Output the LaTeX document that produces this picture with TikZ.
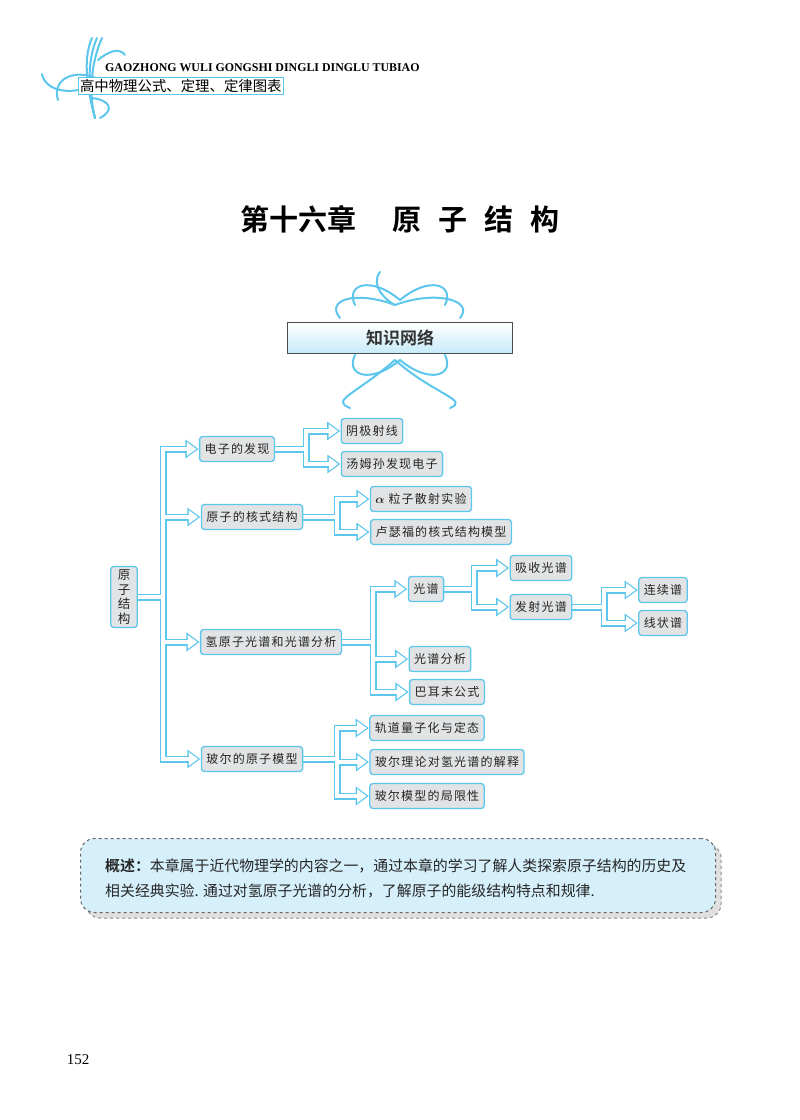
\documentclass[tikz,border=0pt]{standalone}
\usepackage{bm}
\usepackage{fontspec}
\setmainfont{Liberation Serif}
\newfontfamily\cjk[LetterSpace=10]{Noto Sans CJK SC}
\newfontfamily\cjkp{Noto Sans CJK SC}
\newfontfamily\cjkb{Noto Sans CJK SC Bold}
\usetikzlibrary{calc,backgrounds}
\definecolor{cy}{HTML}{5CC6EC}
\definecolor{bx}{HTML}{E1E3E5}
\definecolor{sumfill}{HTML}{D6F0FB}
\tikzset{
 box/.style={draw=cy,line width=1.3pt,fill=bx,rounded corners=3pt,inner xsep=5pt,minimum height=25pt,font=\cjk\fontsize{12}{12}\selectfont,text=black!85},
 pipeO/.style={draw=cy,line width=7pt},
 pipeI/.style={draw=white,line width=4.4pt},
 flo/.style={draw=cy,line width=2pt,line cap=round},
}
\newcommand\linkO[3]{\draw[pipeO] (#1.east) -- (#2 |- #1.east) -- (#2 |- #3.west) -- ([xshift=-11pt]#3.west);
 \fill[cy] ([xshift=-0.5pt]#3.west) -- ++(-13,-9.5) -- ++(0,19) -- cycle;}
\newcommand\linkI[3]{\draw[pipeI] ([xshift=-1pt]#1.east) -- (#2 |- #1.east) -- (#2 |- #3.west) -- ([xshift=-11pt]#3.west);
 \fill[white] ([xshift=-2.6pt]#3.west) -- ++(-9.4,-6.9) -- ++(0,13.8) -- cycle;}
\begin{document}
\begin{tikzpicture}[x=1pt,y=-1pt]
\useasboundingbox (0,0) rectangle (800,1120);
% header flourish
\foreach \a in {0,5,10}{
 \draw[flo] (92+\a,38) .. controls (82+\a,60) and (88,92) .. (95,118);
}
\draw[flo] (96,78) .. controls (70,68) and (52,82) .. (58,100);
\draw[flo] (92,86) .. controls (68,96) and (45,90) .. (42,74);
\draw[flo] (92,98) .. controls (110,100) and (115,110) .. (100,118);
\draw[flo] (98,60) .. controls (110,50) and (120,48) .. (125,55);
\node[font=\bfseries\fontsize{11.9}{12}\selectfont,anchor=west,inner sep=0pt] (hd) at (105,68) {GAOZHONG WULI GONGSHI DINGLI DINGLU TUBIAO};
\node[draw=cy,line width=1pt,fill=white,anchor=west,inner xsep=1.5pt,inner ysep=1.5pt,font=\cjkp\fontsize{14.4}{14.4}\selectfont] (hz) at (78,86) {高中物理公式、定理、定律图表};
% title
\node[font=\cjkb\fontsize{29}{29}\selectfont] (title) at (400,219) {第十六章\hspace{37pt}原\hspace{17pt}子\hspace{17pt}结\hspace{17pt}构};
% banner flourish
\foreach \s in {-1,1}{
 \draw[flo] (400,300) .. controls (400+\s*30,275) and (400+\s*55,285) .. (400+\s*45,305);
 \draw[flo] (395,305) .. controls (395+\s*40,290) and (400+\s*75,300) .. (400+\s*60,318);
 \draw[flo] (400,360) .. controls (400+\s*30,385) and (400+\s*55,375) .. (400+\s*45,355);
 \draw[flo] (395,360) .. controls (395+\s*40,395) and (400+\s*70,400) .. (400+\s*50,408);
}
\draw[flo] (380,272) .. controls (370,285) and (385,300) .. (395,305);
\node[draw=black!70,line width=1pt,minimum width=225pt,minimum height=31pt,top color=white,bottom color=cy!35,font=\cjkb\fontsize{17}{17}\selectfont,text=black!80] (ban) at (400,338) {知识网络};
% nodes
\node[box,inner xsep=7pt,align=center,font=\cjkp\fontsize{12.5}{14.5}\selectfont] (r) at (124,597) {原\\子\\结\\构};
\node[box] (a) at (237,449) {电子的发现};
\node[box] (a1) at (372,431) {阴极射线};
\node[box] (a2) at (392,464) {汤姆孙发现电子};
\node[box] (b) at (252,517) {原子的核式结构};
\node[box] (b1) at (421,499) {$\bm{\alpha}$ 粒子散射实验};
\node[box] (b2) at (441,532) {卢瑟福的核式结构模型};
\node[box] (c) at (271,642) {氢原子光谱和光谱分析};
\node[box] (c1) at (426,589) {光谱};
\node[box] (c11) at (541,568) {吸收光谱};
\node[box] (c12) at (541,607) {发射光谱};
\node[box] (c121) at (663,590) {连续谱};
\node[box] (c122) at (663,623) {线状谱};
\node[box] (c2) at (440,659) {光谱分析};
\node[box] (c3) at (447,692) {巴耳末公式};
\node[box] (d) at (252,759) {玻尔的原子模型};
\node[box] (d1) at (427,728) {轨道量子化与定态};
\node[box] (d2) at (447,762) {玻尔理论对氢光谱的解释};
\node[box] (d3) at (427,796) {玻尔模型的局限性};
\coordinate (B0) at (163,0);
\coordinate (B1) at (306,0);
\coordinate (B2) at (337,0);
\coordinate (B3) at (373,0);
\coordinate (B4) at (474,0);
\coordinate (B5) at (604,0);
\coordinate (B6) at (337,0);
\begin{pgfonlayer}{background}
\foreach \p/\b/\c in {r/B0/a,r/B0/b,r/B0/c,r/B0/d,a/B1/a1,a/B1/a2,b/B2/b1,b/B2/b2,c/B3/c1,c/B3/c2,c/B3/c3,c1/B4/c11,c1/B4/c12,c12/B5/c121,c12/B5/c122,d/B6/d1,d/B6/d2,d/B6/d3}{\linkO{\p}{\b}{\c}}
\foreach \p/\b/\c in {r/B0/a,r/B0/b,r/B0/c,r/B0/d,a/B1/a1,a/B1/a2,b/B2/b1,b/B2/b2,c/B3/c1,c/B3/c2,c/B3/c3,c1/B4/c11,c1/B4/c12,c12/B5/c121,c12/B5/c122,d/B6/d1,d/B6/d2,d/B6/d3}{\linkI{\p}{\b}{\c}}
\end{pgfonlayer}
% summary
\draw[black!45,dashed,line width=1pt,fill=black!12,rounded corners=14pt] (86,844) rectangle (721,918);
\node[draw=black!60,dashed,line width=1pt,fill=sumfill,rounded corners=14pt,minimum width=635pt,minimum height=74pt,anchor=north west] (sum) at (80,838) {};
\node[anchor=north west,align=left,inner sep=0pt,font=\cjkp\fontsize{14.9}{25}\selectfont,text=black!85] (st) at (105,859) {{\cjkb 概述：}本章属于近代物理学的内容之一，通过本章的学习了解人类探索原子结构的历史及\\相关经典实验. 通过对氢原子光谱的分析，了解原子的能级结构特点和规律.};
\node[font=\fontsize{15}{15}\selectfont] (pg) at (78,1060) {152};
\end{tikzpicture}
\end{document}
